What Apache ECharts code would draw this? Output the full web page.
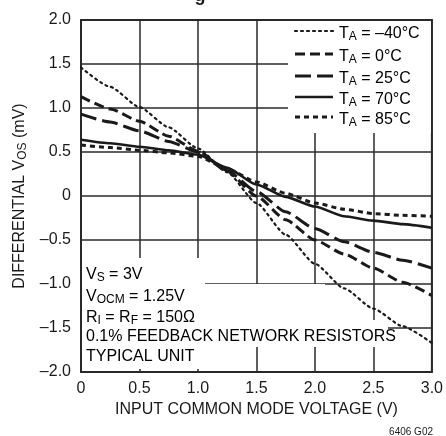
<!DOCTYPE html>
<html>
<head>
<meta charset="utf-8">
<script src="https://cdn.jsdelivr.net/npm/echarts@6/dist/echarts.min.js"></script>
<style>
html,body{margin:0;padding:0;background:#fff;}
#chart{width:446px;height:436px;}
</style>
</head>
<body>
<div id="chart"></div>
<script>
// ---- data ----
const inputCM = [0, 0.25, 0.5, 0.75, 1.0, 1.25, 1.5, 1.75, 2.0, 2.25, 2.5, 2.75, 3.0];
const vosM40 = [1.46, 1.24, 1.01, 0.78, 0.54, 0.27, -0.08, -0.44, -0.77, -1.05, -1.28, -1.48, -1.67];
const vos0   = [1.13, 0.99, 0.85, 0.68, 0.51, 0.28, 0.00, -0.27, -0.50, -0.66, -0.82, -0.98, -1.13];
const vos25  = [0.93, 0.84, 0.74, 0.62, 0.50, 0.29, 0.05, -0.18, -0.37, -0.52, -0.64, -0.73, -0.82];
const vos70  = [0.64, 0.60, 0.56, 0.52, 0.47, 0.32, 0.13, -0.01, -0.12, -0.23, -0.28, -0.32, -0.36];
const vos85  = [0.58, 0.55, 0.52, 0.49, 0.45, 0.31, 0.16, 0.03, -0.08, -0.15, -0.20, -0.22, -0.23];
const tempLabels = ['\u201340\u00B0C', '0\u00B0C', '25\u00B0C', '70\u00B0C', '85\u00B0C'];
const xTicks = ['0', '0.5', '1.0', '1.5', '2.0', '2.5', '3.0'];
const yTicks = ['\u20132.0', '\u20131.5', '\u20131.0', '\u20130.5', '0', '0.5', '1.0', '1.5', '2.0'];

const FONT = "'Liberation Sans', Arial, sans-serif";
const INK = '#1a1a1a';
const seriesData = [vosM40, vos0, vos25, vos70, vos85];
const styles = [
  {type: [2, 4], width: 2.2, cap: 'round'},
  {type: [10, 5], width: 3, cap: 'butt'},
  {type: [16, 6], width: 3, cap: 'butt'},
  {type: 'solid', width: 2.6, cap: 'butt'},
  {type: [5, 4], width: 3, cap: 'butt'}
];

const chart = echarts.init(document.getElementById('chart'), null, {renderer: 'canvas'});

const series = seriesData.map((vals, i) => ({
  type: 'line',
  name: tempLabels[i],
  data: inputCM.map((x, k) => [x, vals[k]]),
  smooth: 0.2,
  smoothMonotone: 'x',
  showSymbol: false,
  symbol: 'none',
  z: 3,
  lineStyle: {color: INK, width: styles[i].width, type: styles[i].type, cap: styles[i].cap},
  animation: false
}));

const richSub = {
  v: {fontSize: 16, fontFamily: FONT, color: INK, lineHeight: 18},
  s: {fontSize: 12, fontFamily: FONT, color: INK, lineHeight: 4, verticalAlign: 'bottom'}
};

const graphics = [];
// legend box
graphics.push({type: 'rect', z: 1, shape: {x: 288, y: 21, width: 143, height: 112}, style: {fill: '#fff'}});
const legY = [31, 54, 76, 97, 117];
tempLabels.forEach((lab, i) => {
  graphics.push({type: 'line', z: 4, shape: {x1: 295, y1: legY[i], x2: 333, y2: legY[i]},
    style: {stroke: INK, lineWidth: styles[i].width, lineDash: styles[i].type === 'solid' ? null : styles[i].type, lineCap: styles[i].cap}});
  graphics.push({type: 'text', z: 4, style: {x: 339, y: legY[i] + 3, text: '{v|T}{s|A}{v| = ' + lab + '}', rich: richSub, verticalAlign: 'middle', align: 'left'}});
});
// annotation boxes
[[82, 258, 123, 26], [82, 284, 243, 63], [82, 320, 306, 27], [82, 347, 118, 22]].forEach(r => {
  graphics.push({type: 'rect', z: 1, shape: {x: r[0], y: r[1], width: r[2], height: r[3]}, style: {fill: '#fff'}});
});
const notes = [
  '{v|V}{s|S}{v| = 3V}',
  '{v|V}{s|OCM}{v| = 1.25V}',
  '{v|R}{s|I}{v| = R}{s|F}{v| = 150\u03A9}',
  '{v|0.1% FEEDBACK NETWORK RESISTORS}',
  '{v|TYPICAL UNIT}'
];
const noteY = [275, 297, 318, 337, 357];
notes.forEach((t, i) => {
  graphics.push({type: 'text', z: 4, style: {x: 86, y: noteY[i], text: t, rich: richSub, verticalAlign: 'middle', align: 'left'}});
});
// clipped title descender and figure id
graphics.push({type: 'text', z: 4, style: {x: 200, y: -13, text: 'g', font: 'bold 18px ' + FONT, fill: INK, align: 'center', verticalAlign: 'top'}});
graphics.push({type: 'text', z: 4, style: {x: 433, y: 437, text: '6406 G02', font: '10px ' + FONT, fill: INK, align: 'right', verticalAlign: 'bottom'}});

const option = {
  animation: false,
  backgroundColor: '#fff',
  grid: {left: 81, right: 14, top: 20, bottom: 64, show: true, borderColor: '#2a2a2a', borderWidth: 2, containLabel: false, z: 0},
  xAxis: {
    type: 'value', min: 0, max: 3, interval: 0.5,
    name: 'INPUT COMMON MODE VOLTAGE (V)', nameLocation: 'middle', nameGap: 30,
    nameTextStyle: {fontSize: 16, fontFamily: FONT, color: INK},
    axisLine: {show: false}, axisTick: {show: false},
    axisLabel: {fontSize: 16, fontFamily: FONT, color: INK, margin: 9,
      formatter: v => xTicks[Math.round(v / 0.5)]},
    splitLine: {show: true, lineStyle: {color: '#2a2a2a', width: 1.5}}
  },
  yAxis: {
    type: 'value', min: -2, max: 2, interval: 0.5,
    name: '{v|DIFFERENTIAL V}{s|OS}{v| (mV)}', nameLocation: 'middle', nameGap: 52, nameRotate: 90,
    nameTextStyle: {rich: richSub},
    axisLine: {show: false}, axisTick: {show: false},
    axisLabel: {fontSize: 16, fontFamily: FONT, color: INK, margin: 10,
      formatter: v => yTicks[Math.round((v + 2) / 0.5)]},
    splitLine: {show: true, lineStyle: {color: '#2a2a2a', width: 1.5}}
  },
  series: series,
  graphic: graphics
};
chart.setOption(option);
</script>
</body>
</html>
